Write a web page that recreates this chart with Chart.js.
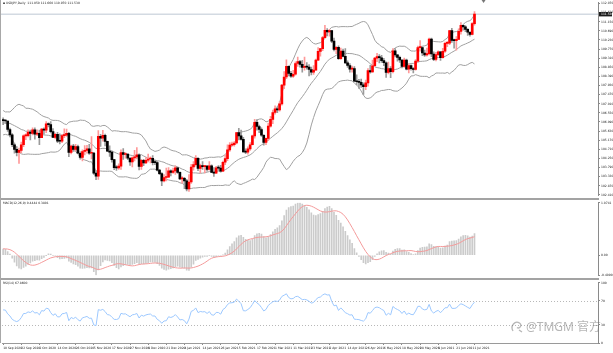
<!DOCTYPE html>
<html lang="en">
<head>
<meta charset="utf-8">
<title>USDJPY Daily</title>
<script src="https://cdn.jsdelivr.net/npm/chart.js@4.4.1/dist/chart.umd.min.js"></script>
<style>
  html, body { margin: 0; padding: 0; background: #fff; }
  #wrap { position: relative; width: 613px; height: 353px; overflow: hidden; background: #fff; }
  .pane { position: absolute; left: 0; width: 613px; }
  .sep { position: absolute; left: 0; width: 599px; height: 2px; background: #a3a3a3; }
  #leftEdge { position: absolute; left: 0; top: 0; width: 1px; height: 343px; background: #a8a8a8; }
  #mark { position: absolute; left: 511px; top: 317px; height: 18px; display: flex; align-items: center; gap: 3px;
          color: rgba(110,110,110,0.5); font: 12px "Noto Sans", "Noto Sans CJK SC", sans-serif; white-space: nowrap; }
</style>
</head>
<body>
<div id="wrap">
  <div class="pane" style="top:0;height:198px"><canvas id="priceChart"></canvas></div>
  <div class="sep" style="top:198px"></div>
  <div class="pane" style="top:200px;height:78px"><canvas id="macdChart"></canvas></div>
  <div class="sep" style="top:278px"></div>
  <div class="pane" style="top:280px;height:73px"><canvas id="rsiChart"></canvas></div>
  <div id="leftEdge"></div>
  <div id="mark">
    <svg width="12" height="13" viewBox="0 0 12 13"><path d="M2 11 C-1 6 4 0 8.5 3 C11.5 5 8.5 9.5 6 7.5 M8 10 L11 12" fill="none" stroke="rgba(110,110,110,0.5)" stroke-width="1.3"/></svg>
    <span>@TMGM 官方</span>
  </div>
</div>
<script>
// trading days shown (no bars on 25 Dec / 1 Jan)
const monthDays = [
  ['Sep 2020', [10,11,14,15,16,17,18,21,22,23,24,25,28,29,30]],
  ['Oct 2020', [1,2,5,6,7,8,9,12,13,14,15,16,19,20,21,22,23,26,27,28,29,30]],
  ['Nov 2020', [2,3,4,5,6,9,10,11,12,13,16,17,18,19,20,23,24,25,26,27,30]],
  ['Dec 2020', [1,2,3,4,7,8,9,10,11,14,15,16,17,18,21,22,23,24,28,29,30,31]],
  ['Jan 2021', [4,5,6,7,8,11,12,13,14,15,18,19,20,21,22,25,26,27,28,29]],
  ['Feb 2021', [1,2,3,4,5,8,9,10,11,12,15,16,17,18,19,22,23,24,25,26]],
  ['Mar 2021', [1,2,3,4,5,8,9,10,11,12,15,16,17,18,19,22,23,24,25,26,29,30,31]],
  ['Apr 2021', [1,2,5,6,7,8,9,12,13,14,15,16,19,20,21,22,23,26,27,28,29,30]],
  ['May 2021', [3,4,5,6,7,10,11,12,13,14,17,18,19,20,21,24,25,26,27,28,31]],
  ['Jun 2021', [1,2,3,4,7,8,9,10,11,14,15,16,17,18,21,22,23,24,25,28,29,30]],
  ['Jul 2021', [1]],
];
const dates = monthDays.flatMap(([m, days]) => days.map(d => `${d} ${m}`));

const opens = [
  106.18,106.16,106.14,105.71,105.44,104.94,104.71,104.56,104.66,104.94,105.39,105.40,105.58,105.51,105.69,
  105.48,105.52,105.30,105.73,105.68,106.00,105.96,105.60,105.31,105.47,105.12,105.12,105.40,105.43,105.52,104.56,104.87,104.71,104.85,104.51,104.30,104.60,
  104.66,104.73,104.51,104.52,103.51,103.35,105.36,105.27,105.42,105.11,104.62,104.57,104.19,103.79,103.77,103.86,104.55,104.45,104.47,104.26,104.07,
  104.28,104.33,104.43,103.85,104.16,104.03,104.16,104.22,104.25,104.04,104.04,103.66,103.48,103.11,103.29,103.31,103.63,103.55,103.62,103.78,103.55,103.22,
  103.25,103.12,102.71,103.06,103.82,103.94,104.25,103.75,103.89,103.84,103.87,103.69,103.88,103.54,103.51,103.77,103.76,103.61,104.06,104.24,
  104.68,104.92,104.95,105.03,105.55,105.39,105.21,104.58,104.57,104.73,104.94,105.39,106.07,105.86,105.71,105.42,105.06,105.26,105.88,106.22,
  106.57,106.75,106.70,107.00,107.95,108.36,108.90,108.54,108.40,108.50,109.04,109.14,109.00,108.84,108.90,108.86,108.74,108.60,108.71,109.21,109.65,109.79,110.35,
  110.72,110.63,110.70,110.17,109.75,109.86,109.28,109.67,109.40,109.07,108.94,108.76,108.79,108.15,108.12,108.09,107.96,107.87,108.06,108.69,108.62,108.93,
  109.31,109.39,109.33,109.19,109.08,108.59,108.79,108.63,109.68,109.48,109.35,109.22,108.90,109.21,108.76,108.94,108.78,108.74,109.16,109.84,109.85,
  109.57,109.48,109.54,110.28,109.52,109.25,109.49,109.63,109.33,109.66,110.06,110.07,110.70,110.21,110.20,110.26,110.66,110.97,110.89,110.76,110.62,110.51,
  111.05
];
const highs = [
  106.30,106.21,106.15,105.78,105.51,105.02,104.85,104.77,105.07,105.44,105.49,105.70,105.68,105.80,105.80,
  105.70,105.68,105.77,105.80,106.11,106.05,106.11,105.76,105.53,105.57,105.49,105.45,105.75,105.73,105.57,104.93,104.96,104.96,104.92,104.58,104.68,104.90,
  104.91,104.96,105.35,104.56,103.64,105.65,105.47,105.67,105.48,105.13,104.89,104.64,104.21,103.89,103.98,104.68,104.75,104.55,104.48,104.30,104.33,
  104.66,104.80,104.48,104.21,104.20,104.29,104.47,104.33,104.39,104.17,104.09,103.70,103.54,103.43,103.76,103.79,103.68,103.76,103.88,103.80,103.58,103.34,
  103.30,103.19,103.44,103.95,104.09,104.40,104.29,103.97,104.09,103.90,103.90,104.09,103.93,103.79,103.85,103.89,103.90,104.12,104.42,104.94,
  105.05,105.08,105.10,105.57,105.77,105.68,105.31,104.74,104.83,105.05,105.43,106.22,106.21,105.93,105.80,105.45,105.28,106.03,106.37,106.69,
  106.91,106.86,107.12,107.99,108.64,109.23,108.93,108.65,108.70,109.12,109.36,109.20,109.20,109.36,109.09,108.99,108.86,108.94,109.26,109.84,109.81,110.41,110.97,
  110.80,110.77,110.72,110.32,109.90,109.93,109.82,109.77,109.80,109.18,109.04,108.91,108.89,108.47,108.24,108.25,108.06,108.21,108.79,108.95,109.22,109.35,
  109.55,109.49,109.46,109.30,109.12,109.11,108.89,109.80,109.79,109.49,109.42,109.24,109.32,109.26,109.04,108.98,108.83,109.24,109.92,110.20,109.88,
  109.72,109.82,110.33,110.32,109.63,109.60,109.68,109.64,109.81,110.12,110.16,110.72,110.82,110.28,110.40,110.79,111.11,110.98,110.95,110.81,110.65,111.11,
  111.66
];
const lows = [
  105.96,106.02,105.62,105.33,104.84,104.52,104.38,104.00,104.53,104.84,105.20,105.34,105.18,105.44,105.22,
  105.40,104.94,105.30,105.47,105.55,105.84,105.54,105.30,105.24,105.04,104.98,105.05,105.30,105.36,104.34,104.48,104.61,104.62,104.49,104.21,104.12,104.43,
  104.51,104.45,104.23,103.44,103.18,103.19,104.86,105.12,104.88,104.59,104.35,104.06,103.68,103.65,103.69,103.69,104.20,104.26,104.19,103.90,103.82,
  104.13,104.23,103.67,103.70,103.88,103.98,104.07,104.02,103.92,103.93,103.62,103.43,102.87,103.07,103.11,103.29,103.37,103.50,103.44,103.49,103.18,103.00,
  102.72,102.61,102.59,102.99,103.66,103.86,103.63,103.52,103.69,103.52,103.61,103.66,103.53,103.34,103.49,103.65,103.56,103.58,103.94,104.14,
  104.60,104.87,104.87,104.98,105.19,105.17,104.57,104.49,104.46,104.65,104.93,105.27,105.68,105.55,105.36,104.92,104.95,105.16,105.83,106.01,
  106.48,106.56,106.64,106.94,107.77,108.28,108.41,108.34,108.34,108.45,108.89,108.86,108.61,108.70,108.75,108.41,108.47,108.49,108.71,109.18,109.41,109.69,110.32,
  110.43,110.42,110.09,109.68,109.54,109.25,109.25,109.37,109.04,108.84,108.61,108.61,108.13,107.97,107.78,107.83,107.48,107.72,107.90,108.55,108.59,108.90,
  109.13,109.07,109.09,108.93,108.34,108.52,108.33,108.57,109.37,109.16,109.09,108.82,108.84,108.72,108.56,108.71,108.57,108.70,109.11,109.66,109.44,
  109.40,109.41,109.48,109.39,109.19,109.17,109.44,109.20,109.31,109.60,109.89,109.99,110.11,109.82,109.71,110.25,110.52,110.72,110.65,110.46,110.42,110.48,
  110.97
];
const closes = [
  106.16,106.14,105.71,105.44,104.94,104.71,104.56,104.66,104.94,105.39,105.40,105.58,105.51,105.69,105.48,
  105.52,105.30,105.73,105.68,106.00,105.96,105.60,105.31,105.47,105.12,105.12,105.40,105.43,105.52,104.56,104.87,104.71,104.85,104.51,104.30,104.60,104.66,
  104.73,104.51,104.52,103.51,103.35,105.36,105.27,105.42,105.11,104.62,104.57,104.19,103.79,103.77,103.86,104.55,104.45,104.47,104.26,104.07,104.28,
  104.33,104.43,103.85,104.16,104.03,104.16,104.22,104.25,104.04,104.04,103.66,103.48,103.11,103.29,103.31,103.63,103.55,103.62,103.78,103.55,103.22,103.25,
  103.12,102.71,103.06,103.82,103.94,104.25,103.75,103.89,103.84,103.87,103.69,103.88,103.54,103.51,103.77,103.76,103.61,104.06,104.24,104.68,
  104.92,104.95,105.03,105.55,105.39,105.21,104.58,104.57,104.73,104.94,105.39,106.07,105.86,105.71,105.42,105.06,105.26,105.88,106.22,106.57,
  106.75,106.70,107.00,107.95,108.36,108.90,108.54,108.40,108.50,109.04,109.14,109.00,108.84,108.90,108.86,108.74,108.60,108.71,109.21,109.65,109.79,110.35,110.72,
  110.63,110.70,110.17,109.75,109.86,109.28,109.67,109.40,109.07,108.94,108.76,108.79,108.15,108.12,108.09,107.96,107.87,108.06,108.69,108.62,108.93,109.31,
  109.39,109.33,109.19,109.08,108.59,108.79,108.63,109.68,109.48,109.35,109.22,108.90,109.21,108.76,108.94,108.78,108.74,109.16,109.84,109.85,109.57,
  109.48,109.54,110.28,109.52,109.25,109.49,109.63,109.33,109.66,110.06,110.07,110.70,110.21,110.20,110.26,110.66,110.97,110.89,110.76,110.62,110.51,111.05,
  111.53
];
// closes before the first visible bar (29 Jul - 9 Sep 2020), only used to seed the indicators
const warmupCloses = [
  105.05,104.73,105.83,105.95,105.70,105.57,105.53,105.92,105.93,106.49,106.90,106.92,106.60,105.99,105.40,
  106.14,105.80,105.80,105.91,106.36,106.00,106.58,105.37,105.89,105.98,106.16,106.18,106.24,106.28,106.08,106.18
];

const priceTicks = [112.070,111.610,111.150,110.690,110.230,109.770,109.310,108.850,108.390,107.930,107.470,
  107.010,106.550,106.090,105.630,105.170,104.710,104.250,103.790,103.330,102.870,102.410];
const rsiTicks = [0, 30, 70, 100];
const rsiLevels = [30, 70];
const PRICE_MIN = 102.395, PRICE_MAX = 112.105;

// chart shift: empty slots to the right of the last bar
const N_SLOTS = 263;
const slots = dates.concat(Array(N_SLOTS - dates.length).fill(''));
const last = closes.length - 1;
const FONT = '"DejaVu Sans", sans-serif';
const TICK_FONT = { family: 'DejaVu Sans', size: 3 };

// ---- indicators (computed from closes the way the terminal does) ----
const allCloses = warmupCloses.concat(closes);
const off = warmupCloses.length;

const bbMid = [], bbUp = [], bbLo = [];
for (let i = 0; i < closes.length; i++) {
  const end = off + i;
  const win = allCloses.slice(end - 19, end + 1);
  const m = win.reduce((a, b) => a + b, 0) / win.length;
  const sd = Math.sqrt(win.reduce((a, b) => a + (b - m) * (b - m), 0) / win.length);
  bbMid.push(m); bbUp.push(m + 2 * sd); bbLo.push(m - 2 * sd);
}

function ema(arr, n) {
  const k = 2 / (n + 1);
  const out = [arr[0]];
  for (let i = 1; i < arr.length; i++) out.push(arr[i] * k + out[i - 1] * (1 - k));
  return out;
}
const e12 = ema(allCloses, 12), e26 = ema(allCloses, 26);
const macdAll = e12.map((v, i) => v - e26[i]);
const sigAll = macdAll.map((v, i) => {
  const w = macdAll.slice(Math.max(0, i - 8), i + 1);
  return w.reduce((a, b) => a + b, 0) / w.length;
});
const macdMain = macdAll.slice(off);
const macdSignal = sigAll.slice(off);

const rsiAll = [];
let ag = 0, al = 0;
for (let i = 1; i < allCloses.length; i++) {
  const d = allCloses[i] - allCloses[i - 1];
  const g = Math.max(d, 0), l = Math.max(-d, 0);
  if (i <= 14) { ag += g / 14; al += l / 14; }
  else { ag = (ag * 13 + g) / 14; al = (al * 13 + l) / 14; }
  rsiAll[i] = al === 0 ? 100 : 100 - 100 / (1 + ag / al);
}
const rsi = rsiAll.slice(off);

const mVals = macdMain.concat(macdSignal);
const MACD_MAX = Math.max(...mVals), MACD_MIN = Math.min(...mVals);

// ---- candles as floating bars ----
const isBull = closes.map((c, i) => c > opens[i]);
const bodies = closes.map((c, i) => [opens[i], c]);
const wicks = highs.map((h, i) => [lows[i], h]);

// ---- shared axis helpers ----
function xAxis(show) {
  const ax = {
    type: 'category', offset: true, display: show,
    grid: { display: show, drawOnChartArea: false, offset: false, tickLength: 2, color: '#8a8a8a' },
    border: { display: show, color: '#9a9a9a' },
    ticks: { autoSkip: false, maxRotation: 0, minRotation: 0, align: 'start', padding: 1, color: '#222', font: TICK_FONT },
  };
  if (show) {
    ax.afterBuildTicks = (a) => { a.ticks = a.ticks.filter(t => t.value % 8 === 0 && t.value < dates.length); };
    ax.afterFit = (a) => { a.height = 10; };
  }
  return ax;
}
function yAxis(min, max, tickVals, fmt) {
  return {
    position: 'right', min, max,
    grid: { display: true, drawOnChartArea: false, tickLength: 2, color: '#8a8a8a' },
    border: { display: true, color: '#8a8a8a' },
    ticks: { color: '#222', padding: 1, font: TICK_FONT, callback: fmt },
    afterBuildTicks: (a) => { a.ticks = tickVals.map(v => ({ value: v })); },
    afterFit: (a) => { a.width = 15; },
  };
}
const baseOpts = {
  responsive: true, maintainAspectRatio: false, animation: false, events: [],
};

// ---- price pane ----
const titleText = `\u25AA USDJPY,Daily  ${opens[last].toFixed(3)} ${highs[last].toFixed(3)} ${lows[last].toFixed(3)} ${closes[last].toFixed(3)}`;

const priceDecor = {
  id: 'priceDecor',
  beforeDatasetsDraw(chart) {
    const { ctx, chartArea: a, scales: { y } } = chart;
    const py = y.getPixelForValue(closes[last]);
    ctx.save();
    ctx.strokeStyle = '#d3dae2';
    ctx.lineWidth = 1.5;
    ctx.beginPath(); ctx.moveTo(0, py); ctx.lineTo(a.right, py); ctx.stroke();
    ctx.restore();
  },
  afterDraw(chart) {
    const { ctx, chartArea: a, scales: { x, y } } = chart;
    const py = y.getPixelForValue(closes[last]);
    ctx.save();
    ctx.fillStyle = '#1c1c1c';
    ctx.fillRect(a.right + 1, py - 2.2, 13, 4.4);
    ctx.font = `3px ${FONT}`;
    ctx.textBaseline = 'middle';
    ctx.textAlign = 'left';
    ctx.fillStyle = '#fff';
    ctx.fillText(closes[last].toFixed(3), a.right + 3, py);
    ctx.fillStyle = '#222';
    ctx.fillText(titleText, 3, 3.5);
    // chart-shift marker
    const sx = x.getPixelForValue(212);
    ctx.fillStyle = '#777';
    ctx.beginPath(); ctx.moveTo(sx - 2, 0); ctx.lineTo(sx + 2, 0); ctx.lineTo(sx, 3); ctx.closePath(); ctx.fill();
    ctx.restore();
  }
};

new Chart(document.getElementById('priceChart'), {
  type: 'bar',
  data: {
    labels: slots,
    datasets: [
      { type: 'bar', data: bodies, backgroundColor: isBull.map(b => b ? '#ff0000' : '#000000'),
        barThickness: 2, minBarLength: 1, grouped: false, order: 0 },
      { type: 'bar', data: wicks, backgroundColor: isBull.map(b => b ? '#ff9a9a' : '#9a9a9a'),
        barThickness: 1, grouped: false, order: 1 },
      { type: 'line', data: bbUp, borderColor: '#a0a0a0', borderWidth: 1, pointRadius: 0, order: 2 },
      { type: 'line', data: bbMid, borderColor: '#a0a0a0', borderWidth: 1, pointRadius: 0, order: 2 },
      { type: 'line', data: bbLo, borderColor: '#a0a0a0', borderWidth: 1, pointRadius: 0, order: 2 },
    ]
  },
  options: {
    ...baseOpts,
    layout: { padding: { left: 2, top: 2, right: 0, bottom: 1 } },
    plugins: { legend: { display: false }, tooltip: { enabled: false } },
    scales: { x: xAxis(false), y: yAxis(PRICE_MIN, PRICE_MAX, priceTicks, v => v.toFixed(3)) }
  },
  plugins: [priceDecor]
});

// ---- MACD pane ----
const macdText = `MACD(12,26,9) ${macdMain[last].toFixed(4)} ${macdSignal[last].toFixed(4)}`;
const macdDecor = {
  id: 'macdDecor',
  afterDraw(chart) {
    const { ctx } = chart;
    ctx.save();
    ctx.font = `3px ${FONT}`;
    ctx.textBaseline = 'middle';
    ctx.fillStyle = '#222';
    ctx.fillText(macdText, 3, 3.5);
    ctx.restore();
  }
};
new Chart(document.getElementById('macdChart'), {
  type: 'bar',
  data: {
    labels: slots,
    datasets: [
      { type: 'line', data: macdSignal, borderColor: '#f49a9a', borderWidth: 1, pointRadius: 0, order: 0 },
      { type: 'bar', data: macdMain, backgroundColor: '#cbcbcb', barThickness: 1, order: 1 },
    ]
  },
  options: {
    ...baseOpts,
    layout: { padding: { left: 2, top: 2, right: 0, bottom: 1 } },
    plugins: { legend: { display: false }, tooltip: { enabled: false } },
    scales: {
      x: xAxis(false),
      y: yAxis(MACD_MIN, MACD_MAX, [MACD_MIN, 0, MACD_MAX], v => v === 0 ? '0.00' : v.toFixed(4))
    }
  },
  plugins: [macdDecor]
});

// ---- RSI pane ----
const rsiText = `RSI(14) ${rsi[last].toFixed(4)}`;
const rsiDecor = {
  id: 'rsiDecor',
  beforeDatasetsDraw(chart) {
    const { ctx, chartArea: a, scales: { y } } = chart;
    ctx.save();
    ctx.strokeStyle = '#b8b8b8';
    ctx.lineWidth = 1;
    ctx.setLineDash([1, 2]);
    rsiLevels.forEach(v => {
      const py = Math.round(y.getPixelForValue(v)) + 0.5;
      ctx.beginPath(); ctx.moveTo(a.left, py); ctx.lineTo(a.right, py); ctx.stroke();
    });
    ctx.restore();
  },
  afterDraw(chart) {
    const { ctx } = chart;
    ctx.save();
    ctx.font = `3px ${FONT}`;
    ctx.textBaseline = 'middle';
    ctx.fillStyle = '#222';
    ctx.fillText(rsiText, 3, 3.5);
    ctx.restore();
  }
};
new Chart(document.getElementById('rsiChart'), {
  type: 'line',
  data: {
    labels: slots,
    datasets: [
      { data: rsi, borderColor: '#9cc8ff', borderWidth: 1, pointRadius: 0, tension: 0 },
    ]
  },
  options: {
    ...baseOpts,
    layout: { padding: { left: 2, top: 2, right: 0, bottom: 0 } },
    plugins: { legend: { display: false }, tooltip: { enabled: false } },
    scales: { x: xAxis(true), y: yAxis(0, 100, rsiTicks, v => String(v)) }
  },
  plugins: [rsiDecor]
});
</script>
</body>
</html>
